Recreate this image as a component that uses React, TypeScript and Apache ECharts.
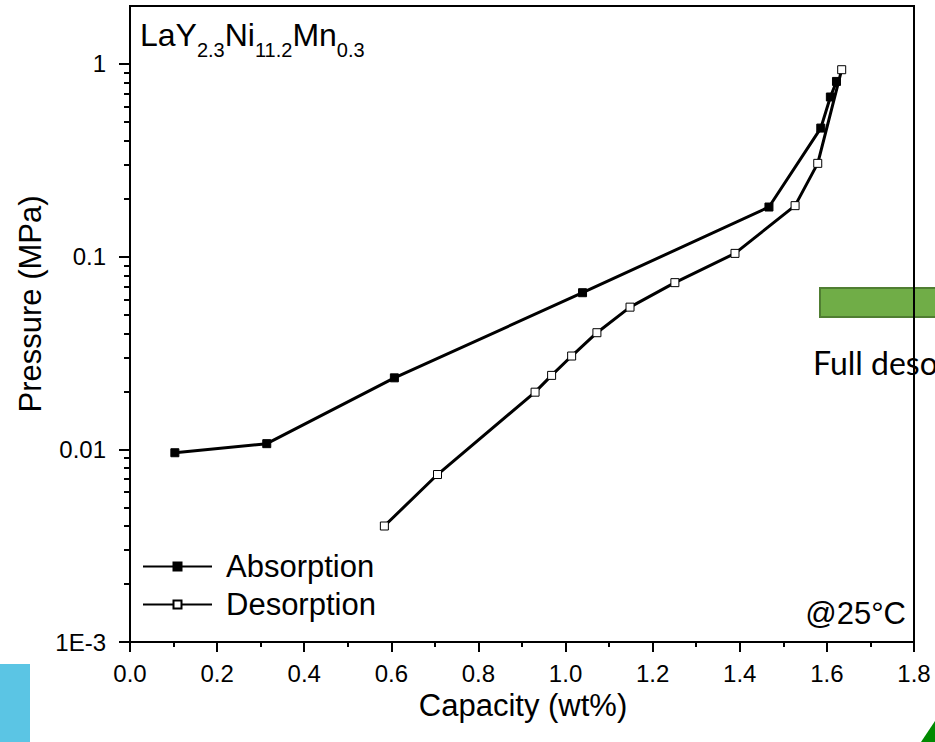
import React, { useEffect, useRef } from "react";
import * as echarts from "echarts";

// ---- data ----
const absorptionCapacity = [0.103, 0.314, 0.607, 1.039, 1.467, 1.586, 1.608, 1.622];
const absorptionPressure = [0.0096, 0.0107, 0.0235, 0.065, 0.181, 0.465, 0.674, 0.812];

const desorptionCapacity = [0.584, 0.706, 0.93, 0.968, 1.014, 1.072, 1.148, 1.251, 1.389, 1.527, 1.579, 1.634];
const desorptionPressure = [0.004, 0.0074, 0.0198, 0.0242, 0.0305, 0.0403, 0.0547, 0.0733, 0.104, 0.184, 0.305, 0.934];

const yMajorTicks = [0.001, 0.01, 0.1, 1];
const yMajorLabels = ["1E-3", "0.01", "0.1", "1"];
const yMinorTicks = [
  0.002, 0.003, 0.004, 0.005, 0.006, 0.007, 0.008, 0.009,
  0.02, 0.03, 0.04, 0.05, 0.06, 0.07, 0.08, 0.09,
  0.2, 0.3, 0.4, 0.5, 0.6, 0.7, 0.8, 0.9,
];

const seriesNames = ["Absorption", "Desorption"];

const FONT = "'Liberation Sans', Arial, sans-serif";

export default function App() {
  const ref = useRef<HTMLDivElement>(null);

  useEffect(() => {
    if (!ref.current) return;
    const chart = echarts.init(ref.current, undefined, { renderer: "svg" });

    const absData = absorptionCapacity.map((x, i) => [x, absorptionPressure[i]]);
    const desData = desorptionCapacity.map((x, i) => [x, desorptionPressure[i]]);

    const axisLine = { show: true, lineStyle: { color: "#000", width: 2 } };

    chart.setOption({
      animation: false,
      backgroundColor: "#fff",
      grid: {
        left: 130,
        right: 21,
        top: 6,
        bottom: 100,
        show: true,
        borderColor: "#000",
        borderWidth: 2,
        backgroundColor: "transparent",
      },
      legend: {
        orient: "vertical",
        left: 137,
        top: 546,
        itemWidth: 69,
        itemHeight: 10,
        itemGap: 7,
        data: seriesNames,
        textStyle: {
          fontFamily: FONT,
          fontSize: 31,
          color: "#000",
          lineHeight: 31,
          padding: [0, 0, 0, 9],
        },
      },
      xAxis: {
        type: "value",
        min: 0,
        max: 1.8,
        interval: 0.2,
        axisLine,
        axisTick: { show: true, length: 10, lineStyle: { color: "#000", width: 2 } },
        minorTick: { show: true, splitNumber: 2, length: 5, lineStyle: { color: "#000", width: 2 } },
        splitLine: { show: false },
        axisLabel: {
          fontFamily: FONT,
          fontSize: 24,
          color: "#000",
          margin: 19,
          formatter: (v: number) => v.toFixed(1),
        },
      },
      yAxis: [
        {
          type: "log",
          logBase: 10,
          min: 0.001,
          max: 2,
          axisLine,
          axisTick: {
            show: true,
            length: 11,
            customValues: yMajorTicks,
            lineStyle: { color: "#000", width: 2 },
          },
          splitLine: { show: false },
          axisLabel: {
            customValues: yMajorTicks,
            fontFamily: FONT,
            fontSize: 24,
            color: "#000",
            margin: 24,
            formatter: (v: number) => {
              const idx = Math.round(Math.log10(v)) + 3;
              return yMajorLabels[idx] ?? "";
            },
          },
        },
        {
          type: "log",
          logBase: 10,
          min: 0.001,
          max: 2,
          position: "left",
          axisLine: { show: false },
          axisTick: {
            show: true,
            length: 6,
            customValues: yMinorTicks,
            lineStyle: { color: "#000", width: 2 },
          },
          splitLine: { show: false },
          axisLabel: { show: false },
        },
      ],
      series: [
        {
          name: seriesNames[0],
          type: "line",
          data: absData,
          symbol: "rect",
          symbolSize: 8,
          lineStyle: { color: "#000", width: 3 },
          itemStyle: { color: "#000", borderColor: "#000", borderWidth: 1 },
          z: 3,
        },
        {
          name: seriesNames[1],
          type: "line",
          data: desData,
          symbol: "rect",
          symbolSize: 8,
          lineStyle: { color: "#000", width: 3 },
          itemStyle: { color: "#fff", borderColor: "#000", borderWidth: 1 },
          z: 3,
        },
      ],
      graphic: [
        {
          type: "rect",
          z: -10,
          shape: { x: 0, y: 664, width: 30, height: 78 },
          style: { fill: "#5BC5E4" },
        },
        {
          type: "rect",
          z: -10,
          shape: { x: 820, y: 288, width: 130, height: 29 },
          style: { fill: "#70AD47", stroke: "#507E32", lineWidth: 2 },
        },
        {
          type: "text",
          z: -10,
          x: 813,
          y: 362,
          style: {
            text: "Full desorption",
            fontFamily: "Lato, 'Open Sans', sans-serif",
            fontSize: 32,
            fill: "#000",
            align: "left",
            verticalAlign: "middle",
          },
        },
        {
          type: "line",
          z: 50,
          shape: { x1: 914, y1: 6, x2: 914, y2: 642 },
          style: { stroke: "#000", lineWidth: 2 },
        },
        {
          type: "polygon",
          z: -10,
          shape: { points: [[921, 742], [935, 721], [935, 742]] },
          style: { fill: "#008A00" },
        },
        {
          type: "text",
          x: 523,
          y: 705,
          style: {
            text: "Capacity (wt%)",
            fontFamily: FONT,
            fontSize: 31,
            fill: "#000",
            align: "center",
            verticalAlign: "middle",
          },
        },
        {
          type: "text",
          x: 30,
          y: 304,
          rotation: Math.PI / 2,
          style: {
            text: "Pressure (MPa)",
            fontFamily: FONT,
            fontSize: 31,
            fill: "#000",
            align: "center",
            verticalAlign: "middle",
          },
        },
        {
          type: "text",
          x: 906,
          y: 613,
          style: {
            text: "@25°C",
            fontFamily: FONT,
            fontSize: 31,
            fill: "#000",
            align: "right",
            verticalAlign: "middle",
          },
        },
        {
          type: "text",
          x: 140,
          y: 19,
          style: {
            text: "{m|LaY}{s|2.3}{m|Ni}{s|11.2}{m|Mn}{s|0.3}",
            fontFamily: FONT,
            fill: "#000",
            align: "left",
            verticalAlign: "top",
            rich: {
              m: { fontFamily: FONT, fontSize: 32, fill: "#000", verticalAlign: "top" },
              s: { fontFamily: FONT, fontSize: 20, fill: "#000", verticalAlign: "top", padding: [21, 0, 0, 0] },
            },
          },
        },
      ],
    });

    return () => chart.dispose();
  }, []);

  return (
    <div
      ref={ref}
      style={{ position: "absolute", left: 0, top: 0, width: 935, height: 742, background: "#fff" }}
    />
  );
}
